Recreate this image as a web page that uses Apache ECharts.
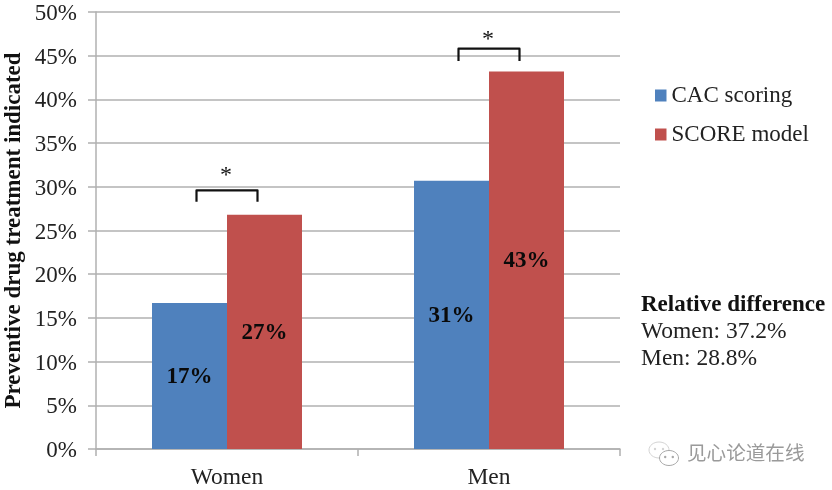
<!DOCTYPE html>
<html>
<head>
<meta charset="utf-8">
<style>
  html, body { margin: 0; padding: 0; background: #fff; }
  #chart { width: 832px; height: 490px; }
</style>
<script src="https://cdn.jsdelivr.net/npm/echarts@6/dist/echarts.min.js"></script>
</head>
<body>
<div id="chart"></div>
<script>
var categories = ['Women', 'Men'];
var cacValues = [16.7, 30.7];
var scoreValues = [26.8, 43.2];
var cacLabels = ['17%', '31%'];
var scoreLabels = ['27%', '43%'];
var bracketTop = [29.6, 45.8];
var bracketBottom = [28.3, 44.4];
var starLevels = [31.6, 47.2];
var relativeLines = ['Women: 37.2%', 'Men: 28.8%'];

var serif = '"Liberation Serif", serif';
var axisGrey = '#b0b0b0';
var chart = echarts.init(document.getElementById('chart'), null, { renderer: 'canvas' });

// 括号和星号，跟着坐标轴走
function renderBracket(params, api) {
  var i = api.value(0);
  var top = api.coord([i, api.value(1)]);
  var bottom = api.coord([i, api.value(2)]);
  var star = api.coord([i, api.value(3)]);
  var half = 30.5;
  return {
    type: 'group',
    children: [{
      type: 'polyline',
      shape: {
        points: [[top[0] - half, bottom[1]], [top[0] - half, top[1]], [top[0] + half, top[1]], [top[0] + half, bottom[1]]]
      },
      style: { stroke: '#111', lineWidth: 2.2, fill: null, lineJoin: 'round' }
    }, {
      type: 'text',
      x: star[0] - 1,
      y: star[1] + 15,
      style: { text: '*', font: '24px ' + serif, fill: '#111', textAlign: 'center', textVerticalAlign: 'bottom' }
    }]
  };
}

function barLabel(texts) {
  return {
    show: true,
    position: 'inside',
    offset: [0, 1],
    formatter: function (p) { return texts[p.dataIndex]; },
    fontFamily: serif,
    fontWeight: 'bold',
    fontSize: 23,
    color: '#0a0a0a'
  };
}

// 水印的微信图标
function bubble(cx, cy, rx, ry, color) {
  return [{
    type: 'ellipse',
    shape: { cx: cx, cy: cy, rx: rx, ry: ry },
    style: { stroke: color, lineWidth: 1, fill: '#fff' }
  }, {
    type: 'circle',
    shape: { cx: cx - rx * 0.4, cy: cy - 1, r: 1.2 },
    style: { fill: color }
  }, {
    type: 'circle',
    shape: { cx: cx + rx * 0.4, cy: cy - 1, r: 1.2 },
    style: { fill: color }
  }];
}

var option = {
  animation: false,
  backgroundColor: '#fff',
  textStyle: { fontFamily: serif },
  grid: { left: 96, right: 212, top: 12, bottom: 41, outerBoundsMode: 'none' },
  legend: {
    data: ['CAC scoring', 'SCORE model'],
    orient: 'vertical',
    left: 650,
    top: 79,
    itemWidth: 11.5,
    itemHeight: 12,
    itemGap: 16,
    icon: 'rect',
    textStyle: { fontFamily: serif, fontSize: 23, color: '#222' }
  },
  xAxis: {
    type: 'category',
    data: categories,
    axisLine: { lineStyle: { color: axisGrey, width: 1.5 } },
    axisTick: { show: true, length: 7, lineStyle: { color: axisGrey, width: 1.5 } },
    axisLabel: { fontFamily: serif, fontSize: 23.5, color: '#222', margin: 17 }
  },
  yAxis: {
    type: 'value',
    min: 0,
    max: 50,
    interval: 5,
    name: 'Preventive drug treatment indicated',
    nameLocation: 'middle',
    nameGap: 70,
    nameMoveOverlap: false,
    nameTextStyle: { fontFamily: serif, fontWeight: 'bold', fontSize: 23, color: '#111' },
    axisLine: { show: true, lineStyle: { color: axisGrey, width: 1.5 } },
    axisTick: { show: true, length: 8, lineStyle: { color: axisGrey, width: 1.5 } },
    axisLabel: { fontFamily: serif, fontSize: 23, color: '#222', margin: 19, verticalAlign: 'top', lineHeight: 4, formatter: '{value}%' },
    splitLine: { show: true, lineStyle: { color: axisGrey, width: 1.5 } }
  },
  series: [{
    name: 'CAC scoring',
    type: 'bar',
    data: cacValues,
    barWidth: 75,
    barGap: 0,
    itemStyle: { color: '#4f81bd' },
    label: barLabel(cacLabels)
  }, {
    name: 'SCORE model',
    type: 'bar',
    data: scoreValues,
    barWidth: 75,
    barGap: 0,
    itemStyle: { color: '#c0504d' },
    label: barLabel(scoreLabels)
  }, {
    type: 'custom',
    renderItem: renderBracket,
    data: categories.map(function (c, i) { return [i, bracketTop[i], bracketBottom[i], starLevels[i]]; }),
    z: 5
  }],
  graphic: [{
    type: 'text',
    left: 641,
    top: 294,
    style: { text: 'Relative difference', font: 'bold 23px ' + serif, fill: '#111' }
  }, {
    type: 'text',
    left: 641,
    top: 318,
    style: { text: relativeLines.join('\n'), font: '23.5px ' + serif, fill: '#222', lineHeight: 27 }
  }, {
    type: 'text',
    left: 687,
    top: 443,
    style: { text: '见心论道在线', font: '19.6px "Noto Sans CJK SC"', fill: '#9a9a9a' }
  }, {
    type: 'group',
    children: bubble(659, 450, 10, 8, '#d4d4d4').concat(bubble(669, 458, 9.5, 7.5, '#a8a8a8'))
  }]
};

chart.setOption(option);
</script>
</body>
</html>
